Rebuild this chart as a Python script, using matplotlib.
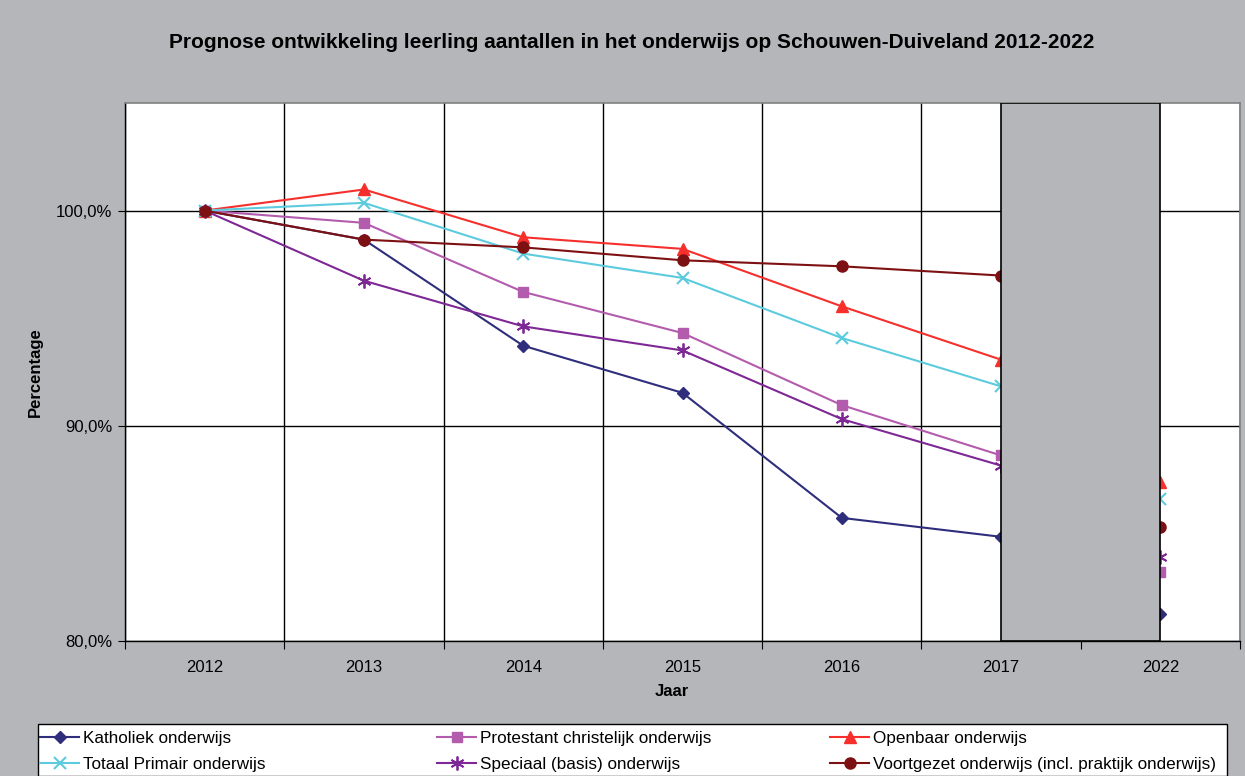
import numpy as np
import matplotlib.pyplot as plt
from matplotlib.patches import Rectangle

# =================================
# DATA
# =================================

years = ["2012", "2013", "2014", "2015", "2016", "2017", "2022"]

katholiek = [100.0, 98.65, 93.72, 91.53, 85.72, 84.84, 81.26]
protestant = [100.0, 99.43, 96.22, 94.31, 90.96, 88.62, 83.19]
openbaar = [100.0, 100.98, 98.76, 98.22, 95.55, 93.07, 87.41]
totaal_primair = [100.0, 100.36, 98.00, 96.87, 94.08, 91.83, 86.59]
speciaal = [100.0, 96.74, 94.62, 93.50, 90.31, 88.15, 83.89]
voortgezet = [100.0, 98.65, 98.29, 97.69, 97.41, 96.98, 85.29]

series_names = [
    "Katholiek onderwijs",
    "Protestant christelijk onderwijs",
    "Openbaar onderwijs",
    "Totaal Primair onderwijs",
    "Speciaal (basis) onderwijs",
    "Voortgezet onderwijs (incl. praktijk onderwijs)",
]

# =================================
# STYLE
# =================================

plt.rcParams["font.family"] = ["Liberation Sans", "DejaVu Sans"]

bg = "#b5b6ba"
W, H = 1245, 776

styles = [
    dict(color="#2e2e7c", marker="D", ms=6.5),
    dict(color="#b35cae", marker="s", ms=7.5),
    dict(color="#f5302c", marker="^", ms=9),
    dict(color="#5ccbdd", marker="x", ms=8, mew=1.5),
    dict(color="#7e2896", marker=(6, 2, 0), ms=10, mew=1.3),
    dict(color="#7d1012", marker="o", ms=8),
]

series = [katholiek, protestant, openbaar, totaal_primair, speciaal, voortgezet]

# =================================
# PLOT
# =================================

fig = plt.figure(figsize=(12.45, 7.76), dpi=100, facecolor=bg)
ax = fig.add_axes([0.1004, 0.174, 0.8956, 0.6933])
ax.set_facecolor("white")

x = np.arange(len(years))

lines = []
for values, name, st in zip(series, series_names, styles):
    ln, = ax.plot(
        x, values,
        label=name,
        lw=1.5,
        zorder=3,
        **st
    )
    lines.append(ln)

# grey block hiding the 2017-2022 stretch
ax.axvspan(5, 6, facecolor=bg, edgecolor="black", lw=1.2, zorder=5)

ax.set_xlim(-0.5, len(years) - 0.5)
ax.set_ylim(80, 105)

# x ticks between categories, labels at centres
ax.set_xticks(np.arange(-0.5, len(years), 1.0))
ax.set_xticklabels([])
ax.set_xticks(x, minor=True)
ax.set_xticklabels(years, minor=True)
ax.tick_params(axis="x", which="major", direction="out", length=6, color="black")
ax.tick_params(axis="x", which="minor", length=0, pad=14, labelsize=12)

ax.set_yticks([80, 90, 100])
ax.set_yticklabels(["80,0%", "90,0%", "100,0%"])
ax.tick_params(axis="y", direction="out", length=5, labelsize=12, pad=4)

ax.grid(True, which="major", color="black", lw=1.0, zorder=1)
ax.set_axisbelow(True)

for side in ["top", "right"]:
    ax.spines[side].set_color("#808080")
    ax.spines[side].set_linewidth(1.2)
for side in ["left", "bottom"]:
    ax.spines[side].set_color("black")
    ax.spines[side].set_linewidth(1.0)

fig.text(
    0.507, 0.9446,
    "Prognose ontwikkeling leerling aantallen in het onderwijs op Schouwen-Duiveland 2012-2022",
    ha="center", va="center", fontsize=15, fontweight="bold"
)

fig.text(0.5395, 1 - 691 / H, "Jaar", ha="center", va="center",
         fontsize=12, fontweight="bold")
fig.text(35 / W, 1 - 372 / H, "Percentage", ha="center", va="center",
         rotation=90, fontsize=12, fontweight="bold")

# =================================
# LEGEND: frame + three columns
# =================================

fig.patches.append(
    Rectangle(
        (38 / W, 0), 1189 / W, 1 - 724 / H,
        transform=fig.transFigure,
        facecolor="white", edgecolor="black", lw=1.0, zorder=1
    )
)

col_x = [40, 437, 830]
col_items = [[0, 3], [1, 4], [2, 5]]

for cx, items in zip(col_x, col_items):
    leg = fig.legend(
        [lines[i] for i in items],
        [series_names[i] for i in items],
        loc="upper left",
        bbox_to_anchor=(cx / W, 1 - 731 / H),
        fontsize=12.3,
        frameon=False,
        handlelength=2.3,
        handletextpad=0.2,
        borderpad=0,
        labelspacing=0.65,
        borderaxespad=0,
    )
    leg.set_zorder(2)

# =================================
# SAVE
# =================================

plt.savefig("out.png", dpi=100, facecolor=bg)
